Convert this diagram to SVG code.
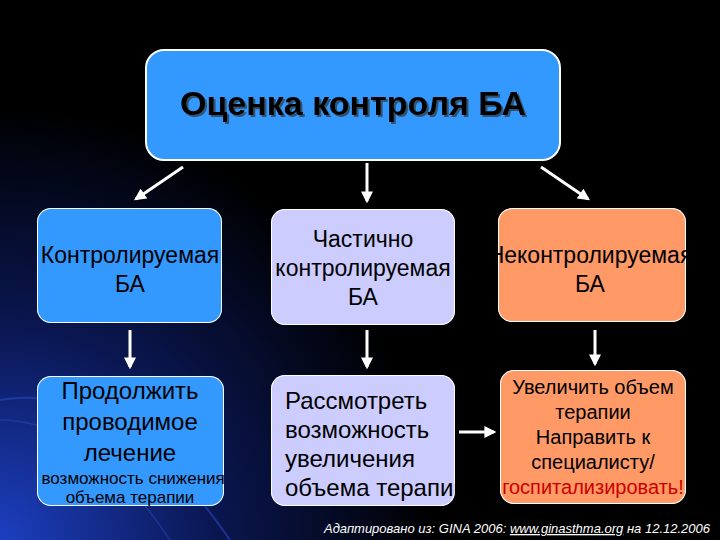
<svg xmlns="http://www.w3.org/2000/svg" width="720" height="540" viewBox="0 0 720 540">
<defs>
<radialGradient id="bg" cx="0" cy="1" r="0.6" gradientTransform="scale(1,1.33) translate(0,-0.25)">
<stop offset="0" stop-color="#1c3fc0"/><stop offset="0.5" stop-color="#0a1650"/><stop offset="1" stop-color="#000"/>
</radialGradient>
<filter id="sh" x="-10%" y="-30%" width="120%" height="160%"><feDropShadow dx="2" dy="2" stdDeviation="0.5" flood-color="#333" flood-opacity="0.7"/></filter>
<marker id="ah" viewBox="0 0 10 10" refX="8" refY="5" markerWidth="4" markerHeight="4" orient="auto"><path d="M0,0L10,5L0,10z" fill="#fff"/></marker>
<clipPath id="c1"><rect x="37" y="208" width="185" height="115" rx="14"/></clipPath>
<clipPath id="c2"><rect x="271" y="209" width="184" height="116" rx="14"/></clipPath>
<clipPath id="c3"><rect x="498" y="208" width="188" height="114" rx="14"/></clipPath>
<clipPath id="c4"><rect x="37" y="376" width="187" height="130" rx="14"/></clipPath>
<clipPath id="c5"><rect x="271" y="375" width="184" height="131" rx="14"/></clipPath>
<clipPath id="c6"><rect x="500" y="370" width="186" height="134" rx="14"/></clipPath>
</defs>
<style>
.box{stroke:#fff;stroke-width:2}
.blue{fill:#3399ff}.lav{fill:#ccccff}.org{fill:#ff9966}
.t{font-family:"Liberation Sans",Arial,sans-serif;font-size:23px;fill:#000;text-anchor:middle}
.b{font-size:24px}
.s{font-size:17px}
.con line{stroke:#fff;stroke-width:3;marker-end:url(#ah)}
</style>
<rect width="720" height="540" fill="#000"/>
<rect width="720" height="540" fill="url(#bg)"/>
<path d="M0,400 Q120,380 230,540" fill="none" stroke="#3050d0" stroke-width="2" opacity="0.5"/>
<path d="M0,420 Q90,420 170,540" fill="none" stroke="#3050d0" stroke-width="1.5" opacity="0.4"/>
<g id="top">
<rect class="box blue" x="146" y="50" width="414" height="110" rx="18"/>
<text x="353" y="115" font-family="Liberation Sans,Arial,sans-serif" font-size="34" font-weight="bold" fill="#000" text-anchor="middle" filter="url(#sh)">Оценка контроля БА</text>
</g>
<g id="n1" clip-path="url(#c1)"><rect class="box blue" x="37" y="208" width="185" height="115" rx="14"/>
<text class="t"><tspan x="130" y="263">Контролируемая</tspan><tspan x="130" y="292">БА</tspan></text></g>
<g id="n2" clip-path="url(#c2)"><rect class="box lav" x="271" y="209" width="184" height="116" rx="14"/>
<text class="t"><tspan x="363" y="247">Частично</tspan><tspan x="363" y="276">контролируемая</tspan><tspan x="363" y="305">БА</tspan></text></g>
<g id="n3" clip-path="url(#c3)"><rect class="box org" x="498" y="208" width="188" height="114" rx="14"/>
<text class="t"><tspan x="590" y="263">Неконтролируемая</tspan><tspan x="590" y="292">БА</tspan></text></g>
<g id="n4" clip-path="url(#c4)"><rect class="box blue" x="37" y="376" width="187" height="130" rx="14"/>
<text class="t b"><tspan x="130" y="399">Продолжить</tspan><tspan x="130" y="430">проводимое</tspan><tspan x="130" y="461">лечение</tspan></text>
<text class="t s"><tspan x="126" y="484">и возможность снижения</tspan><tspan x="130" y="503">объема терапии</tspan></text></g>
<g id="n5" clip-path="url(#c5)"><rect class="box lav" x="271" y="375" width="184" height="131" rx="14"/>
<text class="t b" style="text-anchor:start"><tspan x="285" y="409">Рассмотреть</tspan><tspan x="285" y="438">возможность</tspan><tspan x="285" y="467">увеличения</tspan><tspan x="285" y="496">объема терапии</tspan></text></g>
<g id="n6" clip-path="url(#c6)"><rect class="box org" x="500" y="370" width="186" height="134" rx="14"/>
<text class="t" style="font-size:20px"><tspan x="593" y="394">Увеличить объем</tspan><tspan x="593" y="419">терапии</tspan><tspan x="593" y="444">Направить к</tspan><tspan x="593" y="469">специалисту/</tspan><tspan x="593" y="494" fill="#cc0000">госпитализировать!</tspan></text></g>
<g id="connectors" class="con">
<line x1="183" y1="167" x2="136" y2="199"/>
<line x1="367" y1="163" x2="367" y2="201"/>
<line x1="541" y1="167" x2="588" y2="199"/>
<line x1="130" y1="330" x2="130" y2="367"/>
<line x1="367" y1="330" x2="367" y2="367"/>
<line x1="595" y1="330" x2="595" y2="364"/>
<line x1="459" y1="432" x2="494" y2="432"/>
</g>
<text x="710" y="533" font-family="Liberation Sans,Arial,sans-serif" font-size="13" font-style="italic" fill="#fff" text-anchor="end">Адаптировано из: GINA 2006: <tspan text-decoration="underline">www.ginasthma.org</tspan> на 12.12.2006</text>
</svg>
